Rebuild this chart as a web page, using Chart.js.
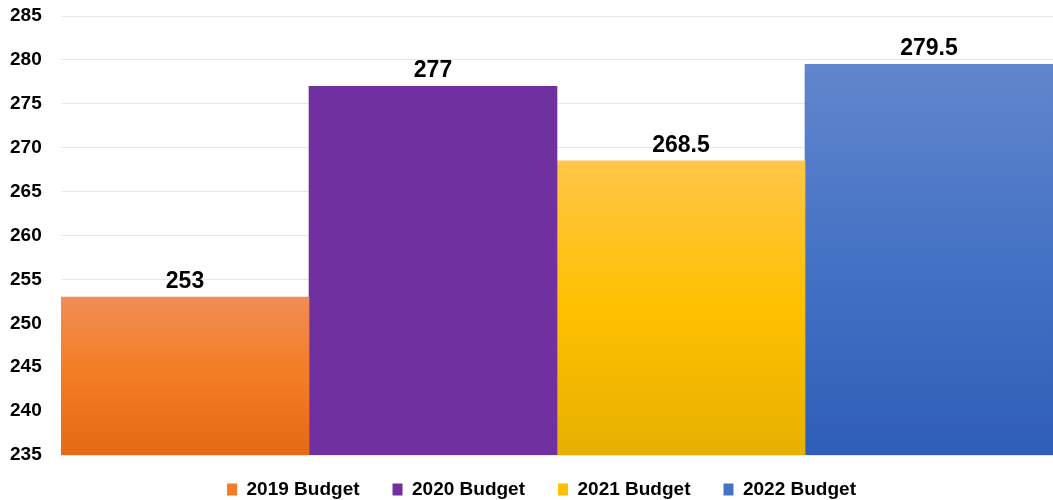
<!DOCTYPE html>
<html>
<head>
<meta charset="utf-8">
<script src="https://cdn.jsdelivr.net/npm/chart.js@4"></script>
<style>
  html, body { margin: 0; padding: 0; background: #fff; }
  #wrap { width: 1053px; height: 500px; }
</style>
</head>
<body>
<div id="wrap"><canvas id="budgetCanvas"></canvas></div>
<script>
// Budget chart
var categories = ["Budget"];
var seriesNames = ["2019 Budget", "2020 Budget", "2021 Budget", "2022 Budget"];
var seriesValues = [253, 277, 268.5, 279.5];
var yTicks = [235, 240, 245, 250, 255, 260, 265, 270, 275, 280, 285];

// top, middle, bottom colours of each bar
var barStops = [
  ["#F08D57", "#F47C22", "#E46A14"],
  ["#7030A0", "#7030A0", "#7030A0"],
  ["#FFC648", "#FFC000", "#E6B100"],
  ["#6286CD", "#4472C4", "#2F5EB8"]
];
var legendColors = ["#F47C22", "#7030A0", "#FFC000", "#4472C4"];

function barFill(i) {
  return function(ctx) {
    var chart = ctx.chart;
    var area = chart.chartArea;
    if (!area) return legendColors[i];
    var top = chart.scales.y.getPixelForValue(seriesValues[i]);
    var g = chart.ctx.createLinearGradient(0, top, 0, area.bottom);
    g.addColorStop(0, barStops[i][0]);
    g.addColorStop(0.5, barStops[i][1]);
    g.addColorStop(1, barStops[i][2]);
    return g;
  };
}

var datasets = [];
seriesNames.forEach(function(name, i) {
  datasets.push({
    label: name,
    data: [seriesValues[i]],
    backgroundColor: barFill(i),
    borderWidth: 0
  });
});

// value labels on top of the bars
var valueLabels = {
  id: "valueLabels",
  afterDatasetsDraw: function(chart) {
    var c = chart.ctx;
    c.save();
    c.font = "bold 23px 'Liberation Sans', Arial, sans-serif";
    c.fillStyle = "#000";
    c.textAlign = "center";
    c.textBaseline = "alphabetic";
    chart.data.datasets.forEach(function(ds, i) {
      var meta = chart.getDatasetMeta(i);
      meta.data.forEach(function(bar, j) {
        c.fillText(String(ds.data[j]), bar.x, bar.y - 9);
      });
    });
    c.restore();
  }
};

// the legend sits a little off centre in the original
var legendShift = {
  id: "legendShift",
  afterLayout: function(chart) {
    var lg = chart.legend;
    lg.left += 10;
    lg.right += 10;
    lg.top -= 8;
    lg.bottom -= 8;
  }
};

Chart.defaults.font.family = "'Liberation Sans', Arial, sans-serif";
Chart.defaults.color = "#000";

new Chart(document.getElementById("budgetCanvas").getContext("2d"), {
  type: "bar",
  data: { labels: categories, datasets: datasets },
  plugins: [valueLabels, legendShift],
  options: {
    responsive: true,
    maintainAspectRatio: false,
    animation: false,
    layout: { padding: { left: 10, right: 0, top: 16, bottom: -17 } },
    datasets: { bar: { categoryPercentage: 1, barPercentage: 1 } },
    scales: {
      x: { display: false },
      y: {
        min: yTicks[0],
        max: yTicks[yTicks.length - 1],
        afterBuildTicks: function(axis) {
          axis.ticks = yTicks.map(function(v) { return { value: v }; });
        },
        afterFit: function(axis) { axis.width = 51; },
        ticks: { font: { size: 19, weight: "bold" }, padding: 0, crossAlign: "far", color: "#000" },
        grid: { color: "#E4E7EB", drawTicks: false },
        border: { display: false }
      }
    },
    plugins: {
      tooltip: { enabled: false },
      legend: {
        position: "bottom",
        labels: {
          boxWidth: 10,
          boxHeight: 12,
          padding: 33,
          font: { size: 19, weight: "bold" },
          color: "#000",
          generateLabels: function(chart) {
            return seriesNames.map(function(name, i) {
              return { text: name, fillStyle: legendColors[i], strokeStyle: legendColors[i], lineWidth: 0, datasetIndex: i };
            });
          }
        }
      }
    }
  }
});
</script>
</body>
</html>
